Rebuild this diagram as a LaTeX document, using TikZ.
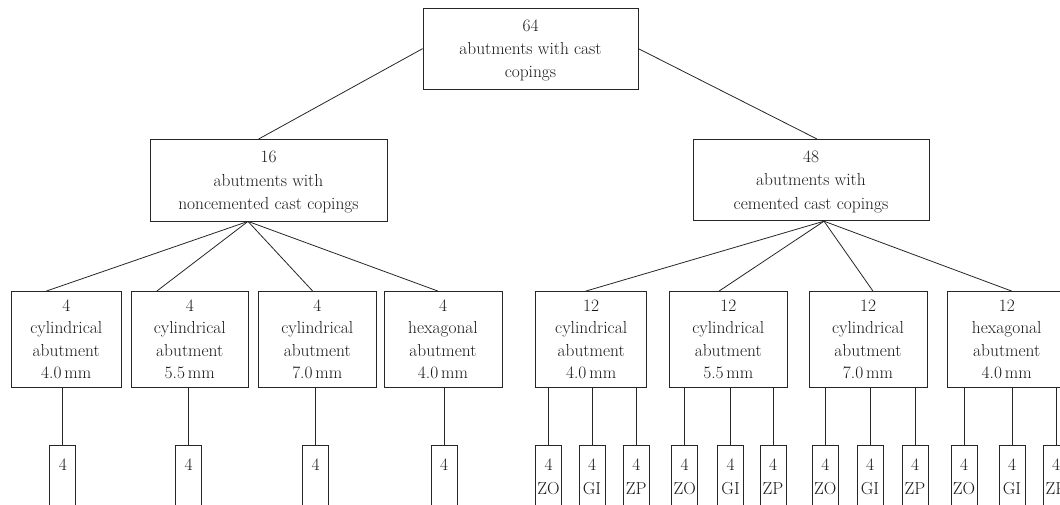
\documentclass[tikz,border=0pt]{standalone}
\usepackage{fontspec}
\begin{document}
\begin{tikzpicture}[x=1pt,y=-1pt, color=black!85, line width=0.8pt,
  box/.style={draw, inner sep=0pt, align=center, text=black!90,
    text depth=0pt, font=\fontsize{17.4}{23.3}\selectfont},
  rowbox/.style={box, minimum height=95.5pt, font=\fontsize{17.4}{22.5}\selectfont},
  leaf/.style={box, minimum width=26pt, minimum height=64pt, font=\fontsize{17.4}{24}\selectfont}]
\useasboundingbox (0,0) rectangle (1060,504);
\clip (0,0) rectangle (1060,504);

% top
\node[box, minimum width=215pt, minimum height=81.3pt] (top) at (530.5,48.65) {64\\abutments with cast\\copings};
% middle
\node[box, minimum width=237pt, minimum height=81.5pt] (lm) at (268.5,180.25) {16\\abutments with\\noncemented cast copings};
\node[box, minimum width=236pt, minimum height=81.4pt] (rm) at (811,180.1) {48\\abutments with\\cemented cast copings};

\draw (top.west) -- ([xshift=-10pt]lm.north);
\draw (top.east) -- ([xshift=6pt]rm.north);

% rows
\node[rowbox, minimum width=110.5pt] (l1) at (66.25,339.25) {4\\cylindrical\\abutment\\4.0\,mm};
\node[rowbox, minimum width=117.5pt] (l2) at (189.75,339.25) {4\\cylindrical\\abutment\\5.5\,mm};
\node[rowbox, minimum width=117.4pt] (l3) at (317.3,339.25) {4\\cylindrical\\abutment\\7.0\,mm};
\node[rowbox, minimum width=118pt] (l4) at (443,339.25) {4\\hexagonal\\abutment\\4.0\,mm};
\node[rowbox, minimum width=111pt] (r1) at (591.15,339.25) {12\\cylindrical\\abutment\\4.0\,mm};
\node[rowbox, minimum width=117.4pt] (r2) at (728.3,339.25) {12\\cylindrical\\abutment\\5.5\,mm};
\node[rowbox, minimum width=118pt] (r3) at (868,339.25) {12\\cylindrical\\abutment\\7.0\,mm};
\node[rowbox, minimum width=118.5pt] (r4) at (1006.75,339.25) {12\\hexagonal\\abutment\\4.0\,mm};

\draw ([xshift=-20.5pt]lm.south) -- ([xshift=-20pt]l1.north);
\draw ([xshift=-20.5pt]lm.south) -- ([xshift=-33pt]l2.north);
\draw ([xshift=-20.5pt]lm.south) -- ([xshift=-4.6pt]l3.north);
\draw ([xshift=-20.5pt]lm.south) -- ([xshift=-5pt]l4.north);
\draw ([xshift=13pt]rm.south) -- ([xshift=-5.4pt]r1.north);
\draw ([xshift=13pt]rm.south) -- ([xshift=-9.3pt]r2.north);
\draw ([xshift=13pt]rm.south) -- ([xshift=5pt]r3.north);
\draw ([xshift=13pt]rm.south) -- ([xshift=5pt]r4.north);

% leaves, left
\node[leaf] (a1) at (62.75,477) {4\\\phantom{Z}};
\node[leaf] (a2) at (188.6,477) {4\\\phantom{Z}};
\node[leaf] (a3) at (315.6,477) {4\\\phantom{Z}};
\node[leaf] (a4) at (444,477) {4\\\phantom{Z}};
\foreach \a/\r in {a1/l1,a2/l2,a3/l3,a4/l4}
  \draw (\a.north) -- (\a.north |- \r.south);

% leaves, right
\node[leaf] (b1) at (548.5,477) {4\\ZO};
\node[leaf] (b2) at (592,477) {4\\GI};
\node[leaf] (b3) at (636.3,477) {4\\ZP};
\node[leaf] (c1) at (684.7,477) {4\\ZO};
\node[leaf] (c2) at (730.6,477) {4\\GI};
\node[leaf] (c3) at (773,477) {4\\ZP};
\node[leaf] (d1) at (825.3,477) {4\\ZO};
\node[leaf] (d2) at (870,477) {4\\GI};
\node[leaf] (d3) at (915,477) {4\\ZP};
\node[leaf] (e1) at (964,477) {4\\ZO};
\node[leaf] (e2) at (1012,477) {4\\GI};
\node[leaf] (e3) at (1056,477) {4\\ZP};
\foreach \a/\r in {b1/r1,b2/r1,b3/r1,c1/r2,c2/r2,c3/r2,d1/r3,d2/r3,d3/r3,e1/r4,e2/r4,e3/r4}
  \draw (\a.north) -- (\a.north |- \r.south);
\end{tikzpicture}
\end{document}
